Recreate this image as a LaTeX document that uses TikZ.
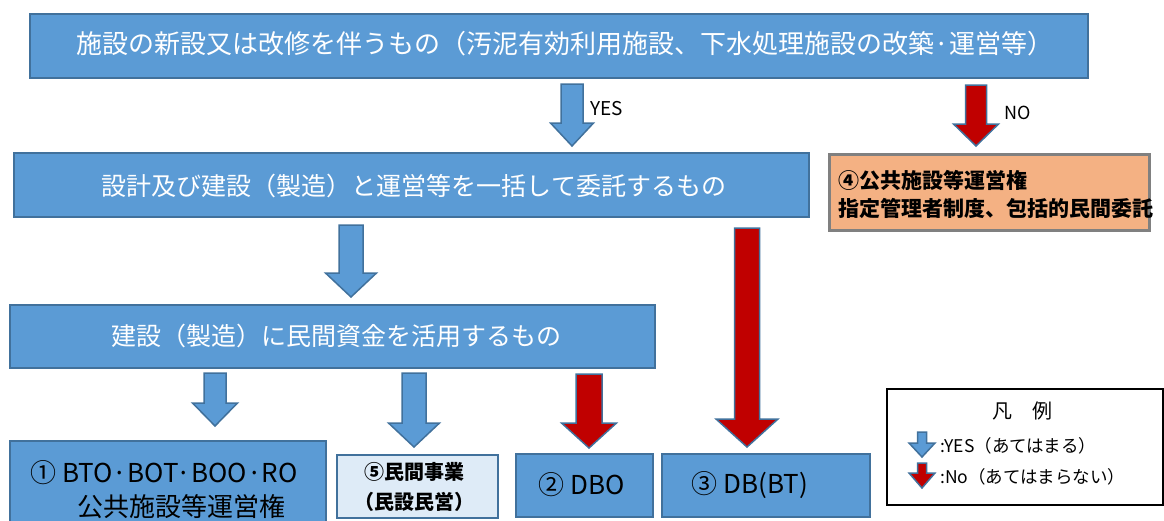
\documentclass[tikz,border=0pt]{standalone}
\usepackage{fontspec}
\setmainfont{Noto Sans CJK JP}
\definecolor{boxblue}{HTML}{5B9BD5}
\definecolor{edgeblue}{HTML}{41719C}
\definecolor{lightblue}{HTML}{DEEBF7}
\definecolor{orangefill}{HTML}{F4B183}
\definecolor{greyedge}{HTML}{808080}
\definecolor{darkred}{HTML}{C00000}
\newcommand\fs[1]{\fontsize{#1pt}{#1pt}\selectfont}
\newcommand\blkarrow[7]{%
  \draw[arrowedge, fill=#7] ({#1-#5},#2) -- ({#1+#5},#2) -- ({#1+#5},#3) -- ({#1+#6},#3) -- (#1,#4) -- ({#1-#6},#3) -- ({#1-#5},#3) -- cycle;}
\begin{document}
\begin{tikzpicture}[x=1pt,y=-1pt,
  bluebox/.style={draw=edgeblue, line width=2pt, fill=boxblue, inner sep=0pt, anchor=north west},
  lightbox/.style={draw=edgeblue, line width=1.5pt, fill=lightblue, inner sep=0pt, anchor=north west},
  orangebox/.style={draw=greyedge, line width=3pt, fill=orangefill, inner sep=0pt, anchor=north west},
  legendbox/.style={draw=black, line width=2pt, fill=white, inner sep=0pt, anchor=north west},
  arrowedge/.style={draw=edgeblue, line width=1.5pt, line join=miter},
  wtxt/.style={text=white, inner sep=0pt},
  btxt/.style={text=black, inner sep=0pt}]
\useasboundingbox (0,0) rectangle (1164,520);
\clip (0,0) rectangle (1164,520);

% boxes
\node[bluebox, minimum width=1058pt, minimum height=64pt] (q1) at (29,13) {};
\node[bluebox, minimum width=795pt, minimum height=64pt] (q2) at (13,152) {};
\node[orangebox, minimum width=320pt, minimum height=76pt] (r4) at (828,153) {};
\node[bluebox, minimum width=645pt, minimum height=63pt] (q3) at (9,304) {};
\node[bluebox, minimum width=316pt, minimum height=95pt] (r1) at (9,440) {};
\node[lightbox, minimum width=161pt, minimum height=63pt] (r5) at (336,454) {};
\node[bluebox, minimum width=137pt, minimum height=63pt] (r2) at (515,453) {};
\node[bluebox, minimum width=208pt, minimum height=63pt] (r3) at (661,453) {};
\node[legendbox, minimum width=276pt, minimum height=116pt] (lg) at (886,388) {};

% texts
\node[wtxt, font=\fs{26}] (q1t) at (565,44) {施設の新設又は改修を伴うもの（汚泥有効利用施設、下水処理施設の改築·運営等）};
\node[wtxt, font=\fs{25}] (q2t) at (414,186) {設計及び建設（製造）と運営等を一括して委託するもの};
\node[wtxt, font=\fs{25}] (q3t) at (336,336) {建設（製造）に民間資金を活用するもの};
\node[btxt, font=\fs{21}\bfseries, anchor=west] (r4a) at (838,180) {④公共施設等運営権};
\node[btxt, font=\fs{21}\bfseries, anchor=west] (r4b) at (838,208) {指定管理者制度、包括的民間委託};
\node[btxt, font=\fs{26}] (r1a) at (164,473) {① BTO·BOT·BOO·RO};
\node[btxt, font=\fs{26}] (r1b) at (181,507) {公共施設等運営権};
\node[btxt, font=\fs{20}\bfseries] (r5a) at (414,472) {⑤民間事業};
\node[btxt, font=\fs{20}\bfseries] (r5b) at (414,502) {\kern-0.5em（民設民営）\kern-0.5em};
\node[btxt, font=\fs{26}] (r2t) at (582,485) {② DBO};
\node[btxt, font=\fs{26}] (r3t) at (750,485) {③ DB(BT)};
\node[btxt, font=\fs{19}, anchor=west] (yes) at (590,109) {YES};
\node[btxt, font=\fs{18}, anchor=west] (no) at (1004,113) {NO};
\node[btxt, font=\fs{20}] (lgt) at (1022,411) {凡　例};
\node[btxt, font=\fs{17.5}, anchor=west] (lgy) at (940,446) {:YES（あてはまる）};
\node[btxt, font=\fs{17.5}, anchor=west] (lgn) at (940,477) {:No（あてはまらない）};

% block arrows: x, ytop, yhead, ytip, shaft half, head half, fill
\blkarrow{572}{84}{123}{146}{11}{21.5}{boxblue}
\blkarrow{976}{85}{124}{146}{10.5}{22.5}{darkred}
\blkarrow{351}{225}{273}{297}{12}{25.5}{boxblue}
\blkarrow{747}{228}{419}{447}{12.5}{31}{darkred}
\blkarrow{215}{373}{403}{426}{11}{22.5}{boxblue}
\blkarrow{414}{373}{423}{447}{12}{25.5}{boxblue}
\blkarrow{589}{374}{423}{448}{13}{27.5}{darkred}
\blkarrow{922}{432}{443}{457}{4.5}{13}{boxblue}
\blkarrow{922}{463}{473}{488}{4.5}{13}{darkred}
\end{tikzpicture}
\end{document}
